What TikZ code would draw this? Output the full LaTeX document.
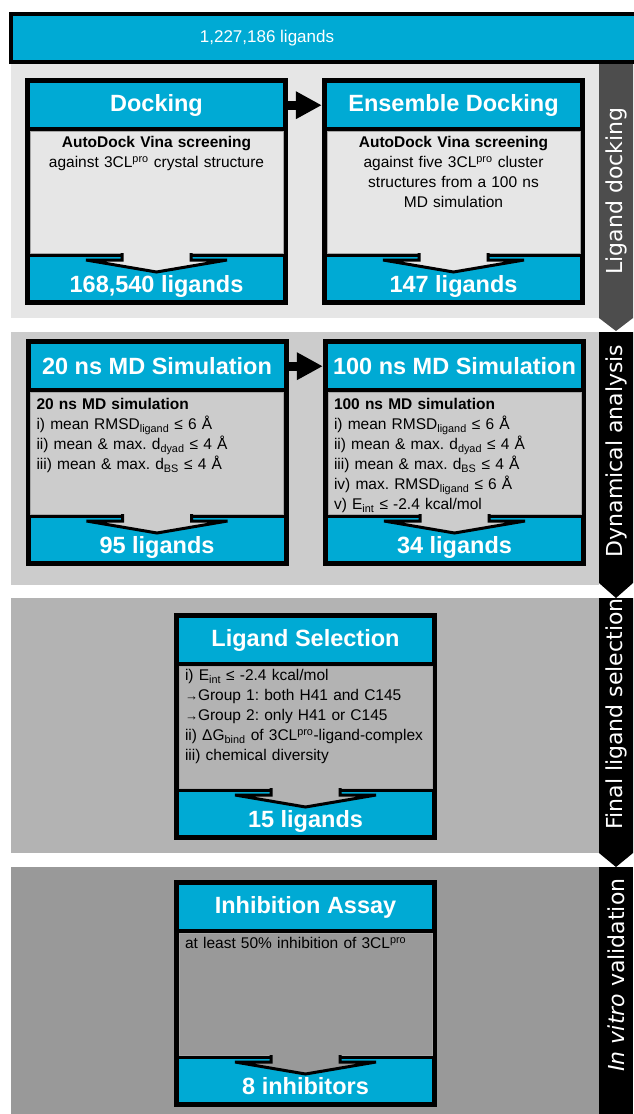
\documentclass[tikz,border=0pt]{standalone}
\usepackage{fontspec}
\setmainfont{Liberation Sans}
\newfontfamily\tabfont{DejaVu Sans}
\usetikzlibrary{positioning,arrows.meta}
\definecolor{stagecyan}{HTML}{00AAD4}
\definecolor{panelA}{HTML}{E6E6E6}
\definecolor{panelB}{HTML}{CCCCCC}
\definecolor{panelC}{HTML}{B3B3B3}
\definecolor{panelD}{HTML}{999999}
\definecolor{tabgray}{HTML}{4D4D4D}
\frenchspacing
% funnel arrow from body into footer: #1 footer node, #2 body colour
\newcommand\funnel[2]{%
  \fill[#2, shift={(#1.north)}] (-34.5,-5) -- (-34.5,3) -- (-70.5,3) -- (0,15) -- (70.5,3) -- (34.5,3) -- (34.5,-5) -- cycle;
  \draw[line width=3, shift={(#1.north)}] (-34.5,-4) -- (-34.5,3) -- (-70.5,3) -- (0,15) -- (70.5,3) -- (34.5,3) -- (34.5,-4);}
\newcommand\smallto{{\fontsize{13}{13}\selectfont →}}
\begin{document}
\begin{tikzpicture}[x=1pt, y=-1pt,
    stagebox/.style={fill=black, minimum width=263, minimum height=227, inner sep=0, anchor=north},
    stagehead/.style={fill=stagecyan, minimum width=253, minimum height=44, inner sep=0, text=white,
      font=\bfseries\fontsize{23.5}{26}\selectfont},
    stagefoot/.style={stagehead, minimum height=43, text height=27, text depth=0},
    stagebody/.style={fill=#1, draw=black!35, line width=1, minimum width=253, minimum height=122, inner sep=0},
    bodytext/.style={text width=241, inner sep=0, font=\fontsize{15.5}{20}\selectfont},
    tablabel/.style={text=white, rotate=90, font=\tabfont\fontsize{22}{24}\selectfont},
    flow/.style={line width=9, -{Triangle[length=26pt, width=26pt]}}]
  \useasboundingbox (0,0) rectangle (633,1114);
  \fill[white] (0,0) rectangle (633,1114);

  % panels and side tabs
  \fill[panelA] (11,64) rectangle (599,318);
  \fill[panelB] (11,332) rectangle (599,585);
  \fill[panelC] (11,598) rectangle (599,853);
  \fill[panelD] (11,867) rectangle (599,1114);
  \fill[tabgray] (599,64) -- (633,64) -- (633,318) -- (616,331) -- (599,318) -- cycle;
  \fill[black] (599,332) -- (633,332) -- (633,583) -- (616,598) -- (599,583) -- cycle;
  \fill[black] (599,598) -- (633,598) -- (633,853) -- (616,867) -- (599,853) -- cycle;
  \fill[black] (599,867) rectangle (633,1114);
  \node[tablabel] (docklabel) at (616,191) {Ligand docking};
  \node[tablabel] (mdlabel) at (616,451) {Dynamical analysis};
  \node[tablabel] (sellabel) at (616,714) {Final ligand selection};
  \node[tablabel] (assaylabel) at (616,975) {\itshape In vitro\upshape{} validation};

  % all ligands
  \draw[line width=4, fill=stagecyan] (11,14) rectangle (660,62);
  \node[text=white, font=\fontsize{17}{20}\selectfont] (total) at (267,38) {1,227,186 ligands};

  % ligand docking
  \node[stagebox] (dock) at (156.5,78) {};
  \node[stagehead, below=5pt of dock.north] (dockhead) {Docking};
  \node[stagebody=panelA, below=4pt of dockhead] (dockbody) {};
  \node[stagefoot, above=5pt of dock.south] (dockfoot) {168,540 ligands};
  \node[bodytext, align=center, below=5pt of dockbody.north] (docktext)
    {\textbf{AutoDock Vina screening}\\against 3CL\textsuperscript{pro} crystal structure};
  \funnel{dockfoot}{panelA}

  \node[stagebox] (ens) at (453.5,78) {};
  \node[stagehead, below=5pt of ens.north] (enshead) {Ensemble Docking};
  \node[stagebody=panelA, below=4pt of enshead] (ensbody) {};
  \node[stagefoot, above=5pt of ens.south] (ensfoot) {147 ligands};
  \node[bodytext, align=center, below=5pt of ensbody.north] (enstext)
    {\textbf{AutoDock Vina screening}\\against five 3CL\textsuperscript{pro} cluster\\structures from a 100 ns\\MD simulation};
  \funnel{ensfoot}{panelA}

  % dynamical analysis
  \node[stagebox] (md20) at (157,339) {};
  \node[stagehead, below=5pt of md20.north] (md20head) {20 ns MD Simulation};
  \node[stagebody=panelB, below=4pt of md20head] (md20body) {};
  \node[stagefoot, above=5pt of md20.south] (md20foot) {95 ligands};
  \node[bodytext, align=left, below=6pt of md20body.north] (md20text)
    {\textbf{20 ns MD simulation}\\
     i) mean RMSD\textsubscript{ligand} ≤ 6 Å\\
     ii) mean \& max. d\textsubscript{dyad} ≤ 4 Å\\
     iii) mean \& max. d\textsubscript{BS} ≤ 4 Å};
  \funnel{md20foot}{panelB}

  \node[stagebox] (md100) at (454.5,339) {};
  \node[stagehead, below=5pt of md100.north] (md100head) {100 ns MD Simulation};
  \node[stagebody=panelB, below=4pt of md100head] (md100body) {};
  \node[stagefoot, above=5pt of md100.south] (md100foot) {34 ligands};
  \node[bodytext, align=left, below=6pt of md100body.north] (md100text)
    {\textbf{100 ns MD simulation}\\
     i) mean RMSD\textsubscript{ligand} ≤ 6 Å\\
     ii) mean \& max. d\textsubscript{dyad} ≤ 4 Å\\
     iii) mean \& max. d\textsubscript{BS} ≤ 4 Å\\
     iv) max. RMSD\textsubscript{ligand} ≤ 6 Å\\
     v) E\textsubscript{int} ≤ -2.4 kcal/mol};
  \funnel{md100foot}{panelB}

  % final selection
  \node[stagebox] (sel) at (305.5,613) {};
  \node[stagehead, below=5pt of sel.north] (selhead) {Ligand Selection};
  \node[stagebody=panelC, below=4pt of selhead] (selbody) {};
  \node[stagefoot, above=5pt of sel.south] (selfoot) {15 ligands};
  \node[bodytext, align=left, below=3pt of selbody.north] (seltext)
    {i) E\textsubscript{int} ≤ -2.4 kcal/mol\\
     \smallto Group 1: both H41 and C145\\
     \smallto Group 2: only H41 or C145\\
     ii) ΔG\textsubscript{bind} of 3CL\textsuperscript{pro}-ligand-complex\\
     iii) chemical diversity};
  \funnel{selfoot}{panelC}

  % in vitro validation
  \node[stagebox] (assay) at (305.5,880) {};
  \node[stagehead, below=5pt of assay.north] (assayhead) {Inhibition Assay};
  \node[stagebody=panelD, below=4pt of assayhead] (assaybody) {};
  \node[stagefoot, above=5pt of assay.south] (assayfoot) {8 inhibitors};
  \node[bodytext, align=left, below=4pt of assaybody.north] (assaytext)
    {at least 50\% inhibition of 3CL\textsuperscript{pro}};
  \funnel{assayfoot}{panelD}

  \draw[flow] (dock.east |- dockhead) -- (ens.west |- enshead);
  \draw[flow] (md20.east |- md20head) -- (md100.west |- md100head);
\end{tikzpicture}
\end{document}
